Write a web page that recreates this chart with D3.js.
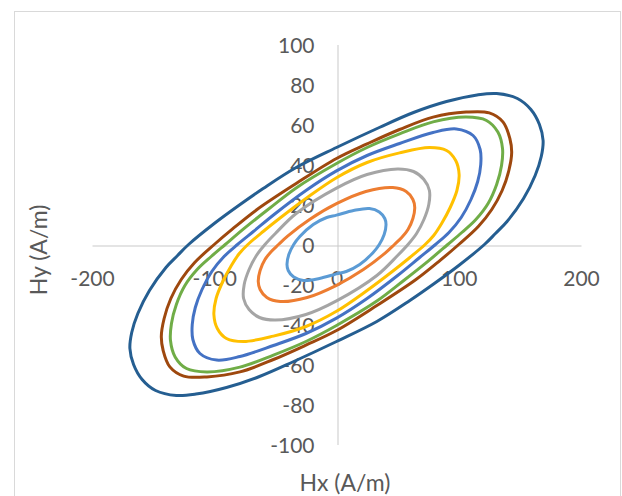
<!DOCTYPE html>
<html>
<head>
<meta charset="utf-8">
<script src="https://cdn.jsdelivr.net/npm/d3@7"></script>
<style>
html,body{margin:0;padding:0;background:#fff;}
svg{display:block;}
</style>
</head>
<body>
<svg id="chart" width="622" height="496"></svg>
<script>
// ---- data (Hx, Hy in A/m) ----
const seriesNames = ["Series1","Series2","Series3","Series4","Series5","Series6","Series7","Series8"];
const seriesColors = ["#5B9BD5","#ED7D31","#A5A5A5","#FFC000","#4472C4","#70AD47","#255E91","#9E480E"];
const xTicks = [-200,-100,0,100,200];
const yTicks = [-100,-80,-60,-40,-20,0,20,40,60,80,100];

const loop1 = [[-35,0],[-30,4],[-19,10],[-8,13.5],[0,14.7],[14,17],[27,18],[35,16.3],[39.5,13],[40.5,10],[39,5],[35,0],
  [30,-4],[19,-10],[8,-13.5],[0,-14.7],[-14,-17],[-27,-18],[-35,-16.3],[-39.5,-13],[-40.5,-10],[-39,-5]];
const loop2 = [[-47.4,0],[-40,4.2],[-22,12.5],[0,20.4],[24,26.5],[46,28.5],[57,26.5],[62.5,22.5],[64,18.5],[62.5,13],[58.5,7.5],[53.5,3.6],[47.4,0],
  [40,-4.2],[22,-12.5],[0,-20.4],[-24,-26.5],[-46,-28.5],[-57,-26.5],[-62.5,-22.5],[-64,-18.5],[-62.5,-13],[-58.5,-7.5],[-53.5,-3.6]];
const loop3 = [[-58.5,0],[-50,5.5],[-33,15.5],[0,28.2],[25,35],[50,37.8],[63,36.5],[71.5,32.5],[76,27],[75.5,20],[71.5,12.5],[65.5,5.5],[58.5,0],
  [50,-5.5],[33,-15.5],[0,-28.2],[-25,-35],[-50,-37.8],[-63,-36.5],[-71.5,-32.5],[-76,-27],[-75.5,-20],[-71.5,-12.5],[-65.5,-5.5]];
const loop4 = [[-72.5,0],[-60,6.5],[-46.7,13],[-25,23],[0,33.4],[25,41],[51.6,45.8],[76,48.5],[90,47],[97.5,42],[100.3,35],[98.5,27],[93,18.5],[86,10.5],[79.5,4.5],[72.5,0],
  [60,-6.5],[46.7,-13],[25,-23],[0,-33.4],[-25,-41],[-51.6,-45.8],[-76,-48.5],[-90,-47],[-97.5,-42],[-100.3,-35],[-98.5,-27],[-93,-18.5],[-86,-10.5],[-79.5,-4.5]];
const loop5 = [[-81,0],[-68,6.5],[-50,15.5],[-25,27],[0,36.8],[25,44.5],[51.6,50.5],[79,56],[98,57.8],[111.7,54.5],[117.5,47.5],[118,40],[115.5,31.5],[110,22.5],[102,13.5],[92,6],[81,0],
  [68,-6.5],[50,-15.5],[25,-27],[0,-36.8],[-25,-44.5],[-51.6,-50.5],[-79,-56],[-98,-57.8],[-111.7,-54.5],[-117.5,-47.5],[-118,-40],[-115.5,-31.5],[-110,-22.5],[-102,-13.5],[-92,-6]];
const loop6 = [[-91,0],[-75,8.3],[-55,18],[-33,28.3],[0,40.5],[25,48.5],[51.6,55.3],[79,61.3],[106,63.7],[122.7,62],[132,56.2],[135.8,48],[135,39.5],[131,30],[124,20.5],[114,12.5],[102.5,6],[91,0],
  [75,-8.3],[55,-18],[33,-28.3],[0,-40.5],[-25,-48.5],[-51.6,-55.3],[-79,-61.3],[-106,-63.7],[-122.7,-62],[-132,-56.2],[-135.8,-48],[-135,-39.5],[-131,-30],[-124,-20.5],[-114,-12.5],[-102.5,-6]];
const loop7 = [[-121,0],[-100,10.5],[-80,19.5],[-60,28],[-33,38.5],[0,48.5],[35,58.5],[63,66],[90,71.5],[115,74.8],[131,75.5],[148,73],[159,67.5],[166,60],[169,52],[167.5,44],[162.5,34.5],[153,23],[139.5,11.5],[130,5.5],[121,0],
  [100,-10.5],[80,-19.5],[60,-28],[33,-38.5],[0,-48.5],[-35,-58.5],[-63,-66],[-90,-71.5],[-115,-74.8],[-131,-75.5],[-148,-73],[-159,-67.5],[-166,-60],[-169,-52],[-167.5,-44],[-162.5,-34.5],[-153,-23],[-139.5,-11.5],[-130,-5.5]];
const loop8 = [[-100,0],[-85,7.8],[-65,17.5],[-33,30.5],[0,43],[25,50.3],[51.6,57.5],[79,63.7],[106,66.2],[125,65.8],[136.3,61.2],[141.8,53],[143.3,46],[141,37],[135.5,27],[127,17.5],[116,9],[100,0],
  [85,-7.8],[65,-17.5],[33,-30.5],[0,-43],[-25,-50.3],[-51.6,-57.5],[-79,-63.7],[-106,-66.2],[-125,-65.8],[-136.3,-61.2],[-141.8,-53],[-143.3,-46],[-141,-37],[-135.5,-27],[-127,-17.5],[-116,-9]];
const loops = [loop1,loop2,loop3,loop4,loop5,loop6,loop7,loop8];

// ---- chart ----
const svg = d3.select("#chart");
const font = "Lato, 'Open Sans', sans-serif";

svg.append("rect")
  .attr("x",14.5).attr("y",11.5).attr("width",606).attr("height",500)
  .attr("fill","#fff").attr("stroke","#D9D9D9").attr("stroke-width",1);

const x = d3.scaleLinear().domain([-200,200]).range([92,581]);
const y = d3.scaleLinear().domain([-100,100]).range([444.5,44.5]);
const fmt = d => String(d);

// axes crossing at origin
const xAxis = d3.axisBottom(x).tickValues(xTicks).tickSize(0).tickPadding(0).tickFormat(fmt);
const yAxis = d3.axisLeft(y).tickValues(yTicks).tickSize(0).tickPadding(0).tickFormat(fmt);

const gx = svg.append("g").attr("transform",`translate(0,${Math.round(y(0))+0.5})`).call(xAxis);
gx.select(".domain").attr("stroke","#C9C9C9").attr("stroke-width",1);
gx.selectAll("text").attr("font-family",font).attr("font-size",21).attr("fill","#595959")
  .attr("dy",null).attr("y",40.5);

const gy = svg.append("g").attr("transform",`translate(${Math.round(x(0))+0.5},0)`).call(yAxis);
gy.select(".domain").attr("stroke","#C9C9C9").attr("stroke-width",1);
gy.selectAll("text").attr("font-family",font).attr("font-size",21).attr("fill","#595959")
  .attr("x",-23).attr("dy","0.36em");

// loops
const line = d3.line().x(d=>x(d[0])).y(d=>y(d[1])).curve(d3.curveCatmullRomClosed.alpha(0.5));
svg.append("g").selectAll("path").data(loops).join("path")
  .attr("d",line).attr("fill","none")
  .attr("stroke",(d,i)=>seriesColors[i]).attr("stroke-width",3)
  .attr("stroke-linejoin","round");

// axis titles
svg.append("text").attr("x",345).attr("y",491).attr("text-anchor","middle")
  .attr("font-family",font).attr("font-size",23).attr("fill","#595959").text("Hx (A/m)");
svg.append("text").attr("transform","translate(47,250) rotate(-90)").attr("text-anchor","middle")
  .attr("font-family",font).attr("font-size",23).attr("fill","#595959").text("Hy (A/m)");
</script>
</body>
</html>
